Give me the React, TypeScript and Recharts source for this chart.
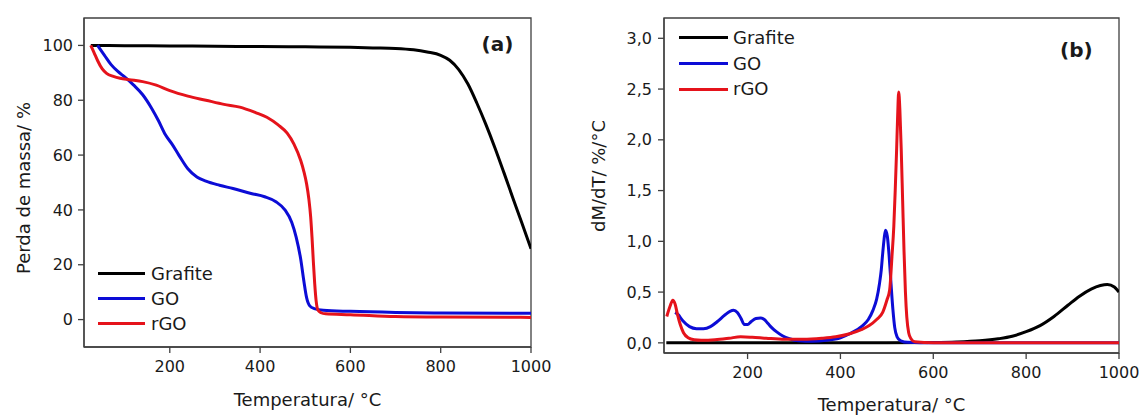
import React from 'react';
import { LineChart, Line, XAxis, YAxis, ReferenceArea, Legend, Customized } from 'recharts';

const FONT = '"DejaVu Sans", "Liberation Sans", Arial, sans-serif';
const FRAME = '#404040';
const TEXT = '#1a1a1a';

const seriesNames = ['Grafite', 'GO', 'rGO'];
const seriesColors = ['#000000', '#0c0cd6', '#e5131b'];

const xTicks = [200, 400, 600, 800, 1000];
const yTicksA = [0, 20, 40, 60, 80, 100];
const yTicksB = [0, 0.5, 1, 1.5, 2, 2.5, 3];

// (a) TGA — mass (%) vs temperature (°C)
const tgaGrafiteT = [25, 100, 200, 300, 400, 500, 600, 650, 700, 740, 770, 800, 820, 840, 860, 880, 900, 920, 940, 960, 980, 1000];
const tgaGrafiteV = [100, 99.9, 99.8, 99.7, 99.6, 99.5, 99.3, 99.1, 98.9, 98.4, 97.6, 96.4, 94.6, 91.2, 86, 79, 71.2, 62.7, 53.6, 44.3, 35.1, 25.8];

const tgaGoT = [40, 55, 70, 85, 100, 120, 140, 160, 175, 190, 205, 220, 240, 260, 280, 310, 340, 380, 410, 435, 455, 470, 480, 490, 497, 503, 510, 520, 540, 600, 700, 800, 1000];
const tgaGoV = [100, 96.5, 93, 90.5, 88.5, 85.5, 82, 77, 72.5, 67.5, 64, 60, 55, 52, 50.5, 49, 47.8, 46, 44.8, 43, 40, 35.5, 30, 22, 14, 8, 5, 4, 3.4, 3.0, 2.6, 2.4, 2.3];

const tgaRgoT = [25, 32, 40, 50, 60, 75, 90, 110, 140, 170, 200, 240, 280, 320, 355, 390, 415, 440, 460, 475, 490, 497, 503, 508, 512, 515, 518, 521, 524, 528, 535, 545, 600, 700, 800, 1000];
const tgaRgoV = [100, 97.5, 94.5, 91.5, 89.8, 88.7, 88, 87.5, 86.8, 85.5, 83.5, 81.5, 80, 78.5, 77.5, 75.5, 73.8, 71, 68, 64, 58, 54, 49.5, 44, 37.5, 30, 21, 13, 7, 3.5, 2.5, 2.1, 1.8, 1.1, 0.9, 0.8];

// (b) DTG — dM/dT (%/°C) vs temperature (°C)
const dtgGrafiteT = [25, 100, 200, 300, 400, 500, 600, 650, 700, 740, 770, 800, 830, 860, 890, 915, 940, 960, 975, 990, 1000];
const dtgGrafiteV = [0, 0, 0, 0, 0, 0, 0.003, 0.008, 0.02, 0.04, 0.065, 0.11, 0.17, 0.26, 0.37, 0.46, 0.53, 0.565, 0.575, 0.55, 0.5];

const dtgGoT = [44, 50, 60, 75, 90, 105, 120, 135, 150, 162, 170, 178, 186, 193, 200, 208, 218, 228, 236, 244, 252, 262, 275, 290, 310, 340, 370, 400, 420, 448, 460, 470, 478, 484, 488, 491, 494, 497, 501, 505, 509, 513, 517, 522, 530, 545, 600, 700, 800, 1000];
const dtgGoV = [0.30, 0.28, 0.22, 0.16, 0.14, 0.14, 0.16, 0.21, 0.27, 0.31, 0.32, 0.30, 0.24, 0.18, 0.18, 0.21, 0.24, 0.245, 0.23, 0.19, 0.15, 0.11, 0.07, 0.04, 0.02, 0.015, 0.025, 0.05, 0.09, 0.17, 0.23, 0.32, 0.43, 0.58, 0.72, 0.88, 1.02, 1.11, 1.05, 0.85, 0.58, 0.33, 0.15, 0.06, 0.02, 0.005, 0, 0, 0, 0];

const dtgRgoT = [26, 33, 39, 44, 49, 55, 62, 72, 85, 100, 130, 160, 185, 210, 240, 280, 320, 360, 390, 420, 445, 462, 478, 491, 500, 506, 511, 515, 518, 521, 523, 525.5, 528, 531, 534, 537, 540, 543, 547, 552, 560, 600, 700, 800, 1000];
const dtgRgoV = [0.26, 0.36, 0.42, 0.38, 0.28, 0.18, 0.10, 0.05, 0.03, 0.025, 0.03, 0.045, 0.06, 0.055, 0.045, 0.035, 0.035, 0.045, 0.06, 0.09, 0.13, 0.17, 0.23, 0.30, 0.42, 0.52, 0.85, 1.15, 1.5, 1.9, 2.2, 2.47, 2.3, 1.9, 1.4, 0.9, 0.5, 0.25, 0.1, 0.04, 0.01, 0, 0, 0, 0];

const zip = (t: number[], v: number[]) => t.map((x, i) => ({ t: x, v: v[i] }));

const tgaData = [zip(tgaGrafiteT, tgaGrafiteV), zip(tgaGoT, tgaGoV), zip(tgaRgoT, tgaRgoV)];
const dtgData = [zip(dtgGrafiteT, dtgGrafiteV), zip(dtgGoT, dtgGoV), zip(dtgRgoT, dtgRgoV)];

const tickStyle = { fontFamily: FONT, fontSize: 16, fill: TEXT };

const LegendRows = ({ rowH, lineW, gap }: { rowH: number; lineW: number; gap: number }) => (
  <div style={{ fontFamily: FONT, fontSize: 18, color: TEXT }}>
    {seriesNames.map((n, i) => (
      <div key={n} style={{ display: 'flex', alignItems: 'center', height: rowH, lineHeight: rowH + 'px' }}>
        <div style={{ width: lineW, height: 3, background: seriesColors[i], marginRight: gap }} />
        <span>{n}</span>
      </div>
    ))}
  </div>
);

const fmtComma = (v: number) => v.toFixed(1).replace('.', ',');

export default function App() {
  return (
    <div style={{ position: 'absolute', left: 0, top: 0, width: 1142, height: 416, background: '#fff' }}>
      <div style={{ position: 'absolute', left: 0, top: 0 }}>
        <LineChart width={560} height={416} margin={{ top: 18, right: 29, left: 0, bottom: 39 }}>
          <XAxis
            dataKey="t"
            type="number"
            domain={[10, 1000]}
            ticks={xTicks}
            allowDataOverflow
            height={30}
            tick={tickStyle}
            tickSize={6}
            tickMargin={8}
            axisLine={{ stroke: FRAME, strokeWidth: 1.3 }}
            tickLine={{ stroke: FRAME, strokeWidth: 1.3 }}
            label={{ value: 'Temperatura/ °C', position: 'bottom', offset: 16, style: { fontFamily: FONT, fontSize: 18, fill: TEXT } }}
          />
          <YAxis
            type="number"
            domain={[-10, 110]}
            ticks={yTicksA}
            allowDataOverflow
            width={84}
            tick={tickStyle}
            tickSize={6}
            tickMargin={5}
            axisLine={{ stroke: FRAME, strokeWidth: 1.3 }}
            tickLine={{ stroke: FRAME, strokeWidth: 1.3 }}
            label={{
              content: () => (
                <text x={30} y={188} transform="rotate(-90, 30, 188)" textAnchor="middle" fontFamily={FONT} fontSize={18} fill={TEXT}>
                  Perda de massa/ %
                </text>
              ),
            }}
          />
          <ReferenceArea x1={10} x2={1000} y1={-10} y2={110} fill="none" stroke={FRAME} strokeWidth={1.3} ifOverflow="visible" />
          {tgaData.map((d, i) => (
            <Line key={seriesNames[i]} data={d} dataKey="v" name={seriesNames[i]} type="monotone" stroke={seriesColors[i]} strokeWidth={3} dot={false} activeDot={false} isAnimationActive={false} />
          ))}
          <Legend
            layout="vertical"
            align="center"
            verticalAlign="middle"
            wrapperStyle={{ left: 98, top: 260.5, width: 'auto', height: 'auto' }}
            content={() => <LegendRows rowH={25} lineW={47} gap={6} />}
          />
          <Customized
            component={() => (
              <text x={481.5} y={50.5} fontFamily={FONT} fontSize={20} fontWeight="bold" fill={TEXT}>
                (a)
              </text>
            )}
          />
        </LineChart>
      </div>
      <div style={{ position: 'absolute', left: 570, top: 0 }}>
        <LineChart width={572} height={416} margin={{ top: 18, right: 23, left: 0, bottom: 33 }}>
          <XAxis
            dataKey="t"
            type="number"
            domain={[20, 1000]}
            ticks={xTicks}
            allowDataOverflow
            height={30}
            tick={tickStyle}
            tickSize={6}
            tickMargin={8}
            axisLine={{ stroke: FRAME, strokeWidth: 1.3 }}
            tickLine={{ stroke: FRAME, strokeWidth: 1.3 }}
            label={{ value: 'Temperatura/ °C', position: 'bottom', offset: 15, style: { fontFamily: FONT, fontSize: 18, fill: TEXT } }}
          />
          <YAxis
            type="number"
            domain={[-0.1, 3.2]}
            ticks={yTicksB}
            allowDataOverflow
            width={94}
            tick={tickStyle}
            tickSize={6}
            tickMargin={6}
            tickFormatter={fmtComma}
            axisLine={{ stroke: FRAME, strokeWidth: 1.3 }}
            tickLine={{ stroke: FRAME, strokeWidth: 1.3 }}
            label={{
              content: () => (
                <text x={35} y={176} transform="rotate(-90, 35, 176)" textAnchor="middle" fontFamily={FONT} fontSize={18} fill={TEXT}>
                  dM/dT/ %/°C
                </text>
              ),
            }}
          />
          <ReferenceArea x1={20} x2={1000} y1={-0.1} y2={3.2} fill="none" stroke={FRAME} strokeWidth={1.3} ifOverflow="visible" />
          {dtgData.map((d, i) => (
            <Line key={seriesNames[i]} data={d} dataKey="v" name={seriesNames[i]} type="monotone" stroke={seriesColors[i]} strokeWidth={3} dot={false} activeDot={false} isAnimationActive={false} />
          ))}
          <Legend
            layout="vertical"
            align="center"
            verticalAlign="middle"
            wrapperStyle={{ left: 109, top: 24.85, width: 'auto', height: 'auto' }}
            content={() => <LegendRows rowH={25.7} lineW={48.7} gap={5.3} />}
          />
          <Customized
            component={() => (
              <text x={490} y={57} fontFamily={FONT} fontSize={20} fontWeight="bold" fill={TEXT}>
                (b)
              </text>
            )}
          />
        </LineChart>
      </div>
    </div>
  );
}
